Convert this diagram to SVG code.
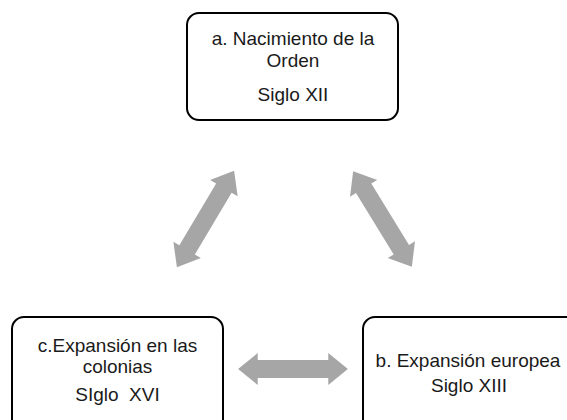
<svg xmlns="http://www.w3.org/2000/svg" width="567" height="420" viewBox="0 0 567 420">
  <style>
    .box { fill: #ffffff; stroke: #000000; stroke-width: 2; }
    .lbl { font-family: "Liberation Sans", Arial, sans-serif; font-size: 19px; fill: #1a1a1a; text-anchor: middle; }
    .arr { fill: #a6a6a6; }
  </style>
  <defs>
    <polygon id="dbl" points="-56,0 -36,-16 -36,-9 36,-9 36,-16 56,0 36,16 36,9 -36,9 -36,16"/>
  </defs>
  <rect width="567" height="420" fill="#ffffff"/>
  <g id="connectors">
    <use href="#dbl" class="arr" transform="translate(205.5,219) rotate(-59.3)"/>
    <use href="#dbl" class="arr" transform="translate(382.5,219) rotate(58.4)"/>
    <use href="#dbl" class="arr" transform="translate(293,369) scale(0.98,1)"/>
  </g>
  <g id="node-a">
    <rect class="box" x="187" y="13" width="211" height="107" rx="12"/>
    <text class="lbl" x="293" y="45">a. Nacimiento de la</text>
    <text class="lbl" x="293" y="67">Orden</text>
    <text class="lbl" x="293" y="101">Siglo XII</text>
  </g>
  <g id="node-c">
    <rect class="box" x="12" y="317" width="211" height="120" rx="12"/>
    <text class="lbl" x="117.5" y="352">c.Expansión en las</text>
    <text class="lbl" x="117.5" y="373">colonias</text>
    <text class="lbl" x="117.5" y="401" xml:space="preserve">SIglo  XVI</text>
  </g>
  <g id="node-b">
    <rect class="box" x="363" y="317" width="220" height="120" rx="12"/>
    <text class="lbl" x="468" y="367">b. Expansión europea</text>
    <text class="lbl" x="469" y="392">Siglo XIII</text>
  </g>
</svg>
